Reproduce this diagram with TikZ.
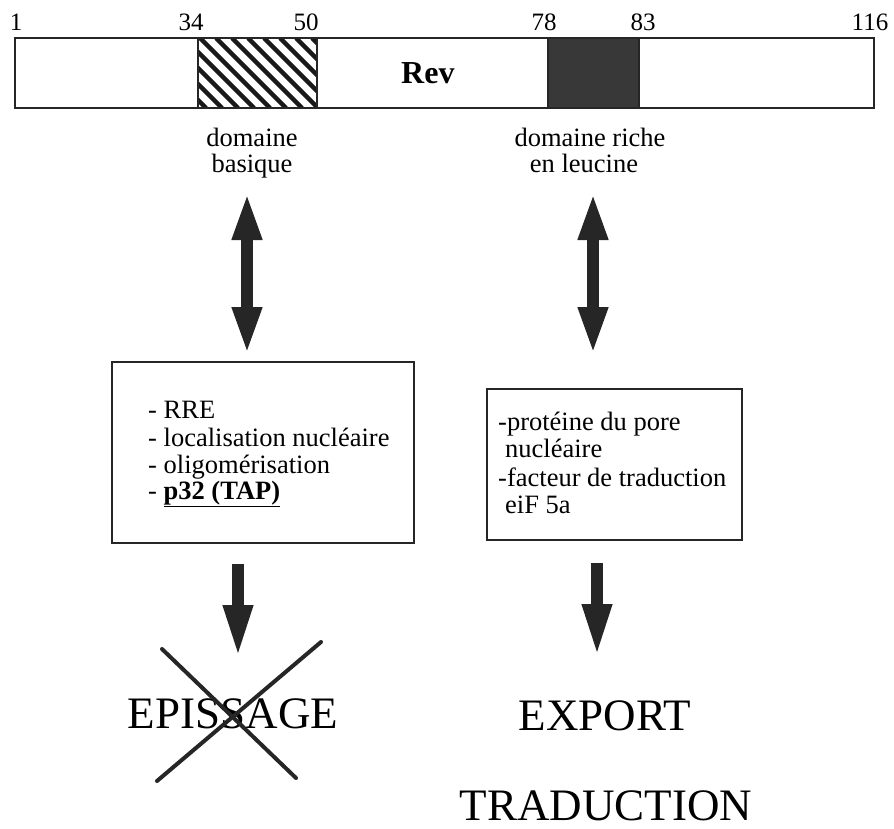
\documentclass[tikz,border=0pt]{standalone}
\usepackage{fontspec}
\setmainfont{Liberation Serif}
\usetikzlibrary{arrows.meta}
\begin{document}
\begin{tikzpicture}[x=1pt,y=-1pt,
  txt/.style={font=\fontsize{26.5}{27.5}\selectfont, inner sep=0pt},
  num/.style={font=\fontsize{25}{25}\selectfont, inner sep=0pt, anchor=base},
  big/.style={font=\fontsize{45}{45}\selectfont, inner sep=0pt, anchor=base},
  boxline/.style={draw=black!85, line width=2pt, inner sep=0pt},
  dblarrow/.style={line width=12pt, draw=black!85, {Triangle[length=48pt,width=27pt]}-{Triangle[length=48pt,width=27pt]}},
  downarrow/.style={line width=12pt, draw=black!85, -{Triangle[length=53pt,width=27pt]}},
  crossline/.style={line width=4pt, draw=black!85, line cap=round}]
\useasboundingbox (0,0) rectangle (894,829);

% protein bar
\node[boxline, minimum width=859pt, minimum height=70pt] (bar) at (444.5,73) {};
\begin{scope}
  \clip (198,38) rectangle (317,108);
  \foreach \i in {120,136,...,328} \draw[line width=4.5pt, black!90] (\i,38) -- ++(70,70);
\end{scope}
\draw[line width=2pt, black!85] (198,38) rectangle (317,108);
\draw[line width=2pt, black!85, fill=black!78] (548,38) rectangle (639,108);
\node[font=\fontsize{32}{32}\selectfont\bfseries, inner sep=0pt, anchor=base west] (rev) at (401,84) {Rev};

% numbers
\node[num] (n1) at (16,31) {1};
\node[num] (n34) at (191,31) {34};
\node[num] (n50) at (306,31) {50};
\node[num] (n78) at (544,31) {78};
\node[num] (n83) at (643,31) {83};
\node[num] (n116) at (870,31) {116};

% domain labels
\node[txt, anchor=base] (dB1) at (252,147) {domaine};
\node[txt, anchor=base] (dB2) at (252,173) {basique};
\node[txt, anchor=base] (dL1) at (590,147) {domaine riche};
\node[txt, anchor=base] (dL2) at (584,173) {en leucine};

% boxes
\node[boxline, minimum width=302pt, minimum height=181pt] (boxL) at (263,452.5) {};
\node[boxline, minimum width=255pt, minimum height=151pt] (boxR) at (614.5,464.5) {};

\node[txt, anchor=base west] (l1) at (148,418) {- RRE};
\node[txt, anchor=base west] (l2) at (148,446) {- localisation nucléaire};
\node[txt, anchor=base west] (l3) at (148,473) {- oligomérisation};
\node[txt, anchor=base west] (l4) at (148,499) {- \underline{\textbf{p32 (TAP)}}};

\node[txt, anchor=base west] (r1) at (498,430) {-protéine du pore};
\node[txt, anchor=base west] (r2) at (505,457) {nucléaire};
\node[txt, anchor=base west] (r3) at (498,486) {-facteur de traduction};
\node[txt, anchor=base west] (r4) at (505,513) {eiF 5a};

% arrow end points
\coordinate (aLt) at (247,192);
\coordinate (aLb) at (247,355);
\coordinate (aRt) at (593,192);
\coordinate (aRb) at (593,355);
\coordinate (dLt) at (238,564);
\coordinate (dLb) at (238,658);
\coordinate (dRt) at (597,563);
\coordinate (dRb) at (597,657);

\draw[dblarrow] (aLt) -- (aLb);
\draw[dblarrow] (aRt) -- (aRb);
\draw[downarrow] (dLt) -- (dLb);
\draw[downarrow] (dRt) -- (dRb);

% outcomes
\node[big] (epi) at (233,728) {EPISSAGE};
\node[big] (exp) at (605,730) {EXPORT};
\node[big] (tra) at (606,820) {TRADUCTION};

\coordinate (c1a) at (162,649);
\coordinate (c1b) at (296,778);
\coordinate (c2a) at (157,781);
\coordinate (c2b) at (321,642);
\draw[crossline] (c1a) -- (c1b);
\draw[crossline] (c2a) -- (c2b);
\end{tikzpicture}
\end{document}
